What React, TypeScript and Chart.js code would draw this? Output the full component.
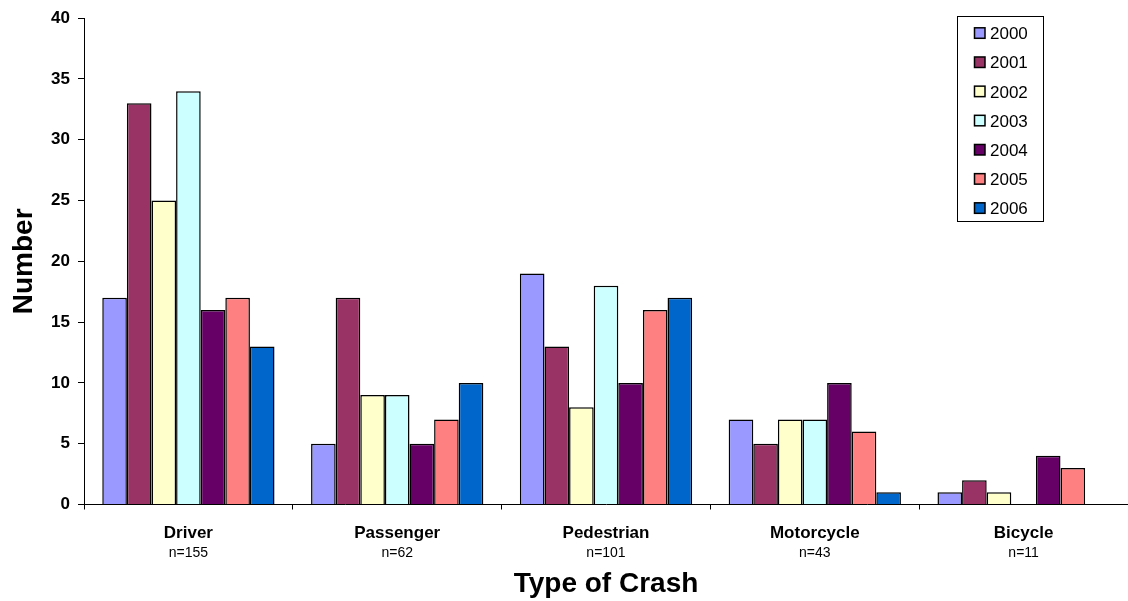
import React, { useEffect, useRef } from "react";
import { Chart, registerables } from "chart.js";

Chart.register(...registerables);

const categories = ["Driver", "Passenger", "Pedestrian", "Motorcycle", "Bicycle"];
const counts = ["n=155", "n=62", "n=101", "n=43", "n=11"];
const years = ["2000", "2001", "2002", "2003", "2004", "2005", "2006"];

const v2000 = [17, 5, 19, 7, 1];
const v2001 = [33, 17, 13, 5, 2];
const v2002 = [25, 9, 8, 7, 1];
const v2003 = [34, 9, 18, 7, null];
const v2004 = [16, 5, 10, 10, 4];
const v2005 = [17, 7, 16, 6, 3];
const v2006 = [13, 10, 17, 1, null];

const seriesValues = [v2000, v2001, v2002, v2003, v2004, v2005, v2006];
const seriesColors = ["#9999FF", "#993366", "#FFFFCC", "#CCFFFF", "#660066", "#FF8080", "#0066CC"];

const yTitle = "Number";
const xTitle = "Type of Crash";

const FONT = "Arial, 'Liberation Sans', sans-serif";

// Category names, sample sizes, axis titles and the boxed legend
const annotations = {
  id: "annotations",
  afterDraw(chart: any) {
    const ctx = chart.ctx;
    const xs = chart.scales.x;
    ctx.save();
    ctx.fillStyle = "#000";
    ctx.textAlign = "center";
    ctx.textBaseline = "alphabetic";
    categories.forEach((c, i) => {
      const px = xs.getPixelForValue(i);
      ctx.font = `bold 17px ${FONT}`;
      ctx.fillText(c, px, 538);
      ctx.font = `14px ${FONT}`;
      ctx.fillText(counts[i], px, 557);
    });

    ctx.font = `bold 28px ${FONT}`;
    ctx.fillText(xTitle, (chart.chartArea.left + chart.chartArea.right) / 2, 592);

    ctx.save();
    ctx.translate(32, (chart.chartArea.top + chart.chartArea.bottom) / 2);
    ctx.rotate(-Math.PI / 2);
    ctx.fillText(yTitle, 0, 0);
    ctx.restore();

    // legend
    const bx = 957.5, by = 16.5, bw = 86, bh = 205;
    ctx.fillStyle = "#fff";
    ctx.fillRect(bx, by, bw, bh);
    ctx.strokeStyle = "#000";
    ctx.lineWidth = 1;
    ctx.strokeRect(bx, by, bw, bh);
    ctx.textAlign = "left";
    ctx.font = `17px ${FONT}`;
    chart.data.datasets.forEach((ds: any, i: number) => {
      const cy = 33.3 + i * 29.17;
      ctx.fillStyle = ds.backgroundColor;
      ctx.fillRect(974.5, cy - 5.5, 10.5, 10.5);
      ctx.strokeStyle = "#000";
      ctx.lineWidth = 1.5;
      ctx.strokeRect(974.5, cy - 5.5, 10.5, 10.5);
      ctx.fillStyle = "#000";
      ctx.fillText(ds.label, 990, cy + 6);
    });
    ctx.restore();
  },
};

export default function App() {
  const ref = useRef<HTMLCanvasElement>(null);

  useEffect(() => {
    if (!ref.current) return;
    const chart = new Chart(ref.current, {
      type: "bar",
      data: {
        labels: categories,
        datasets: years.map((y, i) => ({
          label: y,
          data: seriesValues[i],
          backgroundColor: seriesColors[i],
          borderColor: "#000",
          borderWidth: 1.5,
          barPercentage: 1,
          categoryPercentage: 0.825,
        })),
      },
      options: {
        responsive: false,
        animation: false,
        layout: { padding: { top: 16, right: 0, left: 0, bottom: 0 } },
        plugins: {
          legend: { display: false },
          tooltip: { enabled: false },
        },
        scales: {
          x: {
            afterFit: (s: any) => {
              s.height = 96.5;
            },
            grid: {
              offset: true,
              drawOnChartArea: false,
              drawTicks: true,
              tickLength: 5,
              color: "#000",
            },
            border: { display: true, color: "#000", width: 1 },
            ticks: { callback: () => "" },
          },
          y: {
            min: 0,
            max: 40,
            afterFit: (s: any) => {
              s.width = 84;
            },
            grid: {
              drawOnChartArea: false,
              drawTicks: true,
              tickLength: 6,
              color: "#000",
            },
            border: { display: true, color: "#000", width: 1 },
            ticks: {
              stepSize: 5,
              padding: 8,
              color: "#000",
              font: { family: FONT, size: 17, weight: "bold" },
            },
          },
        },
      },
      plugins: [annotations],
    });
    return () => chart.destroy();
  }, []);

  return (
    <div style={{ position: "absolute", left: 0, top: 0, width: 1128, height: 601, background: "#fff" }}>
      <canvas ref={ref} width={1128} height={601} />
    </div>
  );
}
